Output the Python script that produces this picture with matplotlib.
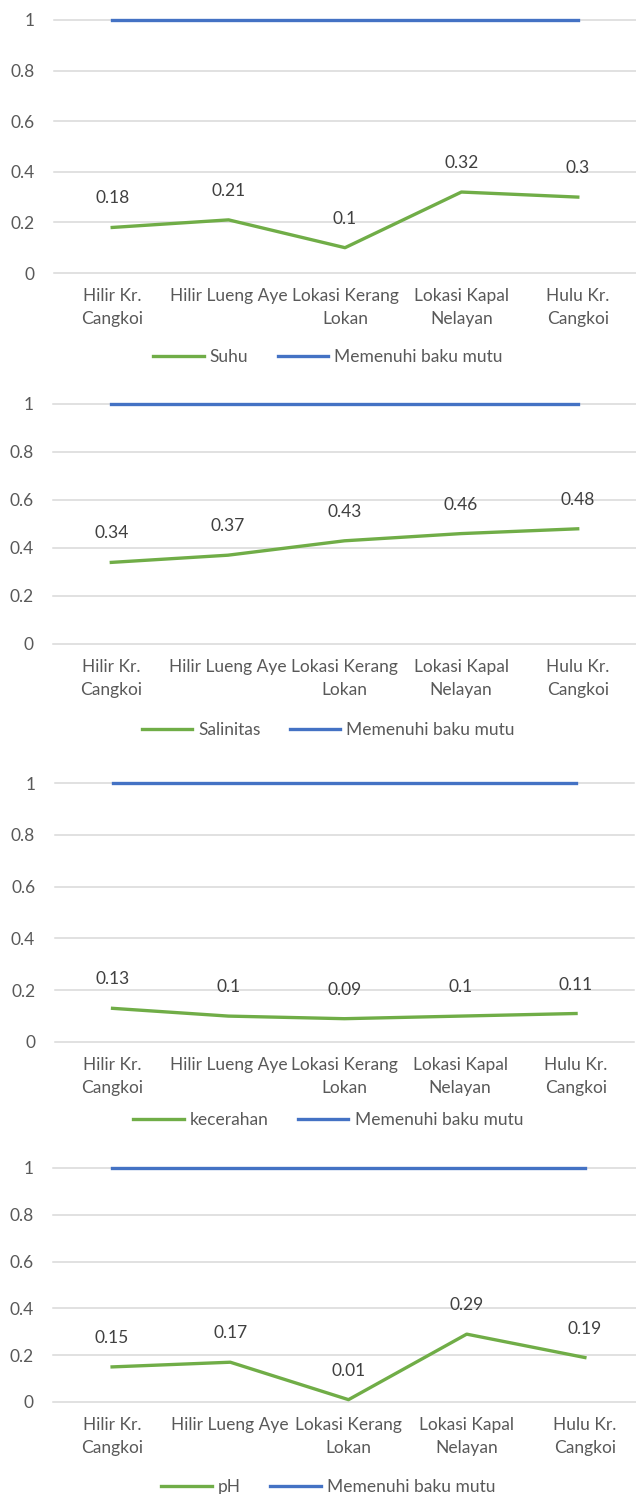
import matplotlib
matplotlib.use('Agg')
import matplotlib.pyplot as plt
from matplotlib.ticker import FuncFormatter

plt.rcParams['font.family'] = ['Lato', 'DejaVu Sans']

locations = ['Hilir Kr.\nCangkoi', 'Hilir Lueng Aye', 'Lokasi Kerang\nLokan',
             'Lokasi Kapal\nNelayan', 'Hulu Kr.\nCangkoi']
suhu = [0.18, 0.21, 0.1, 0.32, 0.3]
salinitas = [0.34, 0.37, 0.43, 0.46, 0.48]
kecerahan = [0.13, 0.1, 0.09, 0.1, 0.11]
ph = [0.15, 0.17, 0.01, 0.29, 0.19]
baku_mutu = [1, 1, 1, 1, 1]

series_names = ['Suhu', 'Salinitas', 'kecerahan', 'pH']
series_values = [suhu, salinitas, kecerahan, ph]
y_ticks = [0, 0.2, 0.4, 0.6, 0.8, 1]

GREEN = '#70AD47'
BLUE = '#4472C4'
GRID = '#D9D9D9'
TEXT = '#595959'
FS = 12.5

W, H = 636, 1494
# panel boxes in pixels: left, right, y of value 0, y of value 1, legend y
boxes = [
    (54, 636, 273, 20, 357),
    (53, 636, 644, 404, 730),
    (54.6, 634, 1042, 783, 1120),
    (53, 644, 1402, 1168, 1487),
]


def draw_panel(fig, box, name, values):
    left, right, y0, y1, leg_y = box
    ax = fig.add_axes([left / W, (H - y0) / H, (right - left) / W, (y0 - y1) / H])
    x = range(len(locations))
    ax.plot(x, values, color=GREEN, lw=2.4, label=name, zorder=3, clip_on=False)
    ax.plot(x, baku_mutu, color=BLUE, lw=2.4, label='Memenuhi baku mutu', zorder=3,
            clip_on=False)
    for xi, v in zip(x, values):
        ax.annotate(f'{v:g}', (xi, v), xytext=(0, 29), textcoords='offset pixels',
                    ha='center', va='center', fontsize=FS, color='#404040')

    ax.set_xlim(-0.5, len(locations) - 0.5)
    ax.set_ylim(0, 1)
    ax.set_yticks(y_ticks)
    ax.yaxis.set_major_formatter(FuncFormatter(lambda v, p: f'{v:g}'))
    ax.set_xticks(list(x))
    ax.set_xticklabels(locations, fontsize=FS, color=TEXT, linespacing=1.5)
    ax.tick_params(axis='both', length=0, labelsize=FS, colors=TEXT)
    ax.tick_params(axis='y', pad=14)
    ax.tick_params(axis='x', pad=11)
    for s in ax.spines.values():
        s.set_visible(False)
    ax.grid(axis='y', color=GRID, lw=1.1, zorder=0)
    ax.set_axisbelow(True)
    for gl in ax.get_ygridlines():
        gl.set_clip_on(False)

    handles, labels = ax.get_legend_handles_labels()
    fig.legend(handles, labels, loc='center', bbox_to_anchor=(0.516, (H - leg_y) / H),
               ncol=2, frameon=False, fontsize=FS, labelcolor=TEXT,
               handlelength=2.9, handletextpad=0.35, columnspacing=1.7,
               borderpad=0, borderaxespad=0)


fig = plt.figure(figsize=(W / 100, H / 100), dpi=100)
for box, name, vals in zip(boxes, series_names, series_values):
    draw_panel(fig, box, name, vals)

fig.savefig('out.png', dpi=100)
